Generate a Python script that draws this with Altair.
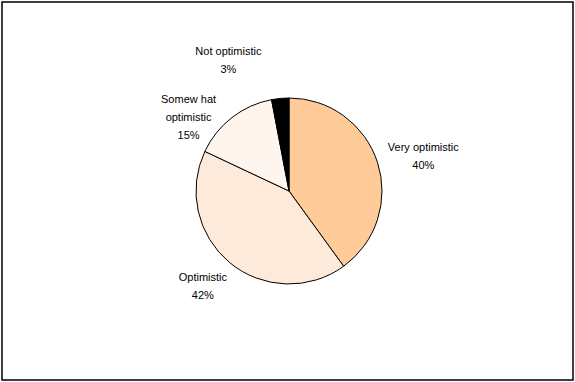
import altair as alt
import pandas as pd

categories = ["Very optimistic", "Optimistic", "Somewhat optimistic", "Not optimistic"]
label_lines = ["Very optimistic", "Optimistic", "Somew hat\noptimistic", "Not optimistic"]
values = [40, 42, 15, 3]
colors = ["#FFCC99", "#FDEADA", "#FEF6EE", "#000000"]

df = pd.DataFrame({
    "category": categories,
    "label": label_lines,
    "value": values,
    "order": list(range(len(categories))),
})

CX, CY, R = 287, 189, 93

pie = alt.Chart(df).mark_arc(stroke="black", strokeWidth=1, outerRadius=R).encode(
    theta=alt.Theta("value:Q", stack=True),
    order=alt.Order("order:Q"),
    color=alt.Color("category:N", scale=alt.Scale(domain=categories, range=colors), legend=None),
    x=alt.value(CX),
    y=alt.value(CY),
)

txt = alt.Chart(df).transform_window(
    cum="sum(value)", sort=[alt.SortField("order")]
).transform_joinaggregate(
    total="sum(value)"
).transform_calculate(
    mid="(datum.cum - datum.value / 2) / datum.total * 2 * PI",
    lines="split(datum.label + '\\n' + datum.value + '%', '\\n')",
)

def label_layer(cat, radius, dx=0, dy=0):
    return txt.transform_filter(alt.datum.category == cat).mark_text(
        radius=radius, font="Liberation Sans", fontSize=11, color="black",
        lineHeight=18, align="center", baseline="middle", dx=dx, dy=dy,
    ).encode(
        theta=alt.Theta("mid:Q", scale=None),
        text="lines:N", x=alt.value(CX), y=alt.value(CY),
    )

labels = alt.layer(
    label_layer("Very optimistic", 137, 4, -1),
    label_layer("Optimistic", 132, -2, -15),
    label_layer("Somewhat optimistic", 128, -22, 10),
    label_layer("Not optimistic", 134, -48, -6),
)

chart = alt.layer(pie, labels).properties(
    width=571, height=378,
    padding={"left": 2, "top": 2, "right": 2, "bottom": 2},
    autosize=alt.AutoSizeParams(type="none"),
).configure_view(stroke="black", strokeWidth=1.5)

chart.save("out.html", embed_options={"renderer": "svg", "actions": False})
